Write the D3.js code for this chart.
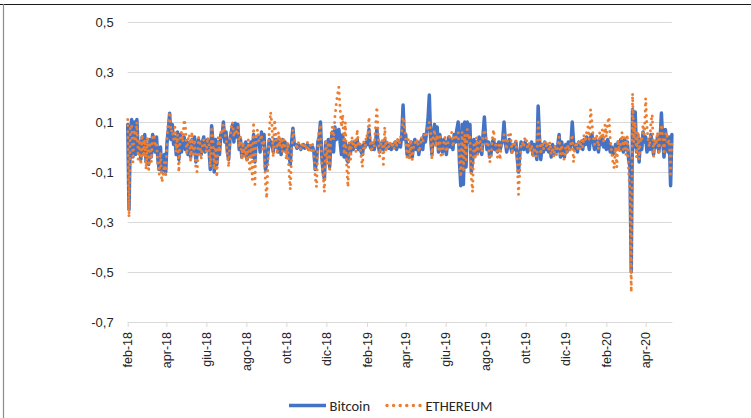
<!DOCTYPE html>
<html>
<head>
<meta charset="utf-8">
<script src="https://cdn.jsdelivr.net/npm/d3@7"></script>
<style>
  html, body { margin: 0; padding: 0; background: #fff; }
  svg { display: block; font-family: Carlito, Calibri, Lato, "Noto Sans", sans-serif; }
</style>
</head>
<body>
<svg id="chart" width="751" height="418"></svg>
<script>
// Daily log-returns, one value every two days starting on 1 Feb 2018
const START_DATE = "2018-02-01";
const STEP_DAYS = 2;

const bitcoin = [
  0.09, -0.25, 0.05, 0.11, -0.04, 0.1, -0.03, 0.11, -0.02, 0.02,
  -0.05, 0.04, -0.02, 0.05, -0.06, 0.01, -0.07, 0.03, -0.04, 0.05,
  0.03, -0.02, 0.04, -0.05, -0.09, 0.0, -0.1, -0.08, -0.03, -0.1,
  0.02, 0.07, 0.135, 0.03, 0.09, 0.01, 0.04, -0.03, 0.06, -0.05,
  0.05, -0.02, 0.03, 0.04, -0.01, 0.02, -0.03, 0.02, -0.04, 0.03,
  -0.02, 0.04, -0.06, -0.03, 0.03, 0.01, -0.03, 0.02, 0.04, -0.02,
  0.01, 0.03, -0.01, -0.09, 0.085, 0.02, -0.1, 0.03, -0.07, 0.02,
  -0.03, 0.05, 0.04, 0.1, 0.02, 0.06, -0.02, -0.05, 0.03, 0.06,
  0.09, 0.02, 0.095, 0.04, 0.09, -0.01, 0.03, -0.04, 0.01, -0.03,
  0.02, -0.05, 0.01, -0.03, 0.02, -0.04, 0.05, -0.06, 0.03, 0.01,
  0.04, -0.02, 0.06, 0.01, 0.05, -0.09, -0.07, -0.02, 0.03, 0.02,
  0.01, -0.02, 0.03, 0.0, 0.03, -0.02, 0.02, -0.03, 0.03, -0.01,
  0.02, -0.02, 0.01, -0.03, -0.07, 0.02, 0.075, 0.01, 0.01, -0.005,
  0.01, 0.0, -0.01, 0.005, 0.01, -0.005, 0.0, 0.01, -0.01, 0.005,
  -0.01, 0.0, -0.02, -0.09, -0.06, 0.02, 0.04, 0.1, -0.04, -0.1,
  -0.13, 0.02, -0.04, 0.03, -0.08, 0.02, 0.06, -0.02, 0.08, 0.03,
  0.05, 0.07, 0.02, -0.03, 0.05, -0.04, 0.02, -0.05, -0.06, 0.01,
  -0.02, 0.02, -0.01, 0.02, 0.0, 0.03, -0.01, 0.01, -0.02, -0.03,
  0.01, 0.0, 0.02, 0.01, 0.07, 0.0, -0.01, 0.01, -0.01, 0.02,
  0.07, 0.01, -0.02, 0.0, 0.02, -0.01, 0.03, 0.0, 0.01, -0.005,
  0.01, -0.01, 0.01, 0.0, 0.02, -0.01, 0.01, 0.02, 0.0, 0.05,
  0.168, 0.03, 0.05, -0.03, 0.01, -0.04, 0.02, -0.04, 0.01, 0.03,
  -0.01, 0.02, -0.03, 0.01, 0.03, -0.01, 0.05, 0.02, 0.06, 0.11,
  0.208, 0.04, -0.03, 0.06, 0.09, 0.01, 0.08, -0.02, 0.05, 0.0,
  -0.02, 0.03, 0.01, -0.03, 0.02, 0.04, 0.0, 0.03, -0.01, 0.05,
  0.02, 0.07, 0.1, -0.06, -0.155, 0.09, -0.15, 0.1, -0.08, 0.1,
  0.02, 0.09, -0.1, -0.06, 0.03, -0.03, 0.02, -0.02, 0.04, 0.0,
  -0.03, 0.05, 0.12, 0.03, -0.01, 0.02, -0.04, -0.03, 0.02, 0.03,
  -0.01, 0.01, -0.02, 0.02, -0.01, 0.01, 0.03, 0.1, 0.02, -0.02,
  0.01, 0.03, 0.0, -0.02, 0.01, -0.01, 0.02, -0.04, -0.1, -0.03,
  0.02, 0.01, -0.01, 0.02, 0.0, -0.02, 0.01, -0.01, 0.02, -0.03,
  0.01, -0.02, -0.05, 0.164, 0.04, -0.05, 0.01, -0.02, 0.02, -0.01,
  0.01, -0.02, 0.0, -0.04, 0.01, -0.03, 0.0, -0.02, 0.01, 0.05,
  -0.04, 0.02, -0.03, -0.04, 0.01, -0.02, 0.02, -0.01, 0.01, 0.1,
  0.02, -0.01, 0.01, -0.02, 0.02, 0.0, 0.02, -0.01, 0.03, 0.01,
  0.04, 0.02, -0.01, 0.04, 0.05, 0.02, -0.01, 0.03, 0.01, -0.02,
  0.03, 0.01, 0.04, 0.0, 0.02, -0.01, 0.03, 0.01, -0.02, 0.0,
  -0.03, -0.02, 0.01, -0.01, 0.02, -0.01, 0.03, 0.0, -0.02, 0.03,
  -0.01, 0.02, -0.05, -0.08, -0.5, 0.15, 0.0, 0.14, -0.02, 0.05,
  -0.06, 0.03, -0.01, 0.06, 0.02, 0.04, -0.02, 0.03, -0.01, 0.05,
  0.01, -0.03, 0.02, 0.0, 0.04, -0.02, 0.03, 0.136, 0.02, -0.04,
  0.07, 0.03, -0.02, 0.04, -0.155, 0.05
];

const ethereum = [
  0.11, -0.28, 0.08, 0.09, -0.06, 0.07, 0.02, 0.1, -0.05, 0.03,
  -0.07, 0.05, -0.04, 0.03, -0.09, 0.04, -0.1, 0.02, -0.06, 0.04,
  0.05, 0.0, 0.02, -0.08, -0.11, -0.02, -0.14, -0.12, -0.06, -0.12,
  0.04, 0.1, 0.14, 0.06, 0.07, 0.03, 0.08, -0.02, 0.05, -0.1,
  0.03, 0.06, 0.02, 0.11, 0.09, -0.03, 0.03, 0.05, -0.06, 0.06,
  -0.03, 0.03, -0.09, -0.1, 0.04, 0.02, -0.05, 0.01, 0.03, 0.0,
  -0.02, 0.04, 0.01, -0.08, 0.07, 0.03, -0.09, 0.0, -0.12, 0.04,
  -0.02, 0.06, 0.05, 0.09, 0.05, 0.04, -0.03, -0.08, 0.04, 0.08,
  0.1, 0.04, 0.07, 0.06, 0.08, 0.0, 0.04, -0.05, 0.02, -0.04,
  0.0, -0.06, 0.03, -0.1, 0.01, -0.13, 0.1, -0.15, 0.04, 0.07,
  0.02, 0.03, 0.05, -0.02, 0.03, -0.14, -0.205, -0.06, 0.07, 0.14,
  0.09, -0.04, 0.11, 0.05, -0.03, 0.06, 0.0, 0.04, -0.02, 0.03,
  0.0, -0.05, 0.02, -0.1, -0.17, -0.03, 0.07, 0.03, 0.02, -0.01,
  0.02, 0.005, -0.01, 0.02, 0.0, 0.01, -0.01, 0.02, -0.02, 0.01,
  -0.015, 0.01, -0.03, -0.12, -0.16, 0.0, 0.07, 0.09, -0.06, -0.11,
  -0.18, 0.03, -0.07, 0.02, -0.1, 0.05, 0.08, 0.03, 0.12, 0.17,
  0.21, 0.24, 0.15, 0.08, 0.13, -0.03, 0.1, -0.08, -0.16, 0.02,
  -0.05, 0.04, 0.0, 0.03, -0.02, 0.07, 0.01, 0.02, -0.04, -0.08,
  0.02, -0.01, 0.05, 0.04, 0.12, 0.02, -0.02, 0.03, 0.0, 0.08,
  0.16, 0.05, -0.04, 0.01, 0.03, -0.07, 0.08, -0.02, 0.02, 0.0,
  0.02, 0.0, 0.02, -0.01, 0.03, 0.0, 0.04, 0.01, 0.03, 0.06,
  0.12, 0.09, 0.03, -0.04, 0.03, -0.05, 0.03, -0.05, 0.0, 0.02,
  0.01, 0.03, -0.02, 0.0, 0.04, 0.02, 0.04, 0.06, 0.05, 0.08,
  0.1, 0.07, -0.05, 0.04, 0.07, 0.0, 0.05, -0.01, 0.04, -0.04,
  -0.04, 0.02, 0.04, -0.02, 0.01, 0.03, 0.05, 0.06, 0.0, 0.04,
  0.03, 0.05, 0.06, -0.04, -0.12, 0.06, -0.1, 0.05, -0.05, 0.07,
  0.03, 0.05, -0.12, -0.18, 0.02, -0.05, 0.04, -0.03, 0.03, 0.02,
  -0.02, 0.04, 0.07, 0.05, 0.0, 0.01, -0.06, -0.05, 0.03, 0.07,
  0.02, 0.0, -0.04, 0.01, -0.05, 0.02, 0.02, 0.05, 0.03, -0.01,
  0.04, 0.06, 0.05, -0.03, 0.02, 0.01, 0.03, -0.05, -0.19, -0.1,
  0.01, 0.02, 0.0, 0.04, 0.03, -0.01, 0.02, -0.02, 0.01, -0.04,
  0.0, -0.03, -0.04, 0.1, 0.05, -0.03, 0.02, -0.01, 0.03, 0.0,
  0.02, -0.01, 0.02, -0.03, 0.0, -0.04, 0.01, -0.03, 0.0, 0.04,
  -0.03, 0.01, -0.04, -0.05, 0.0, -0.02, 0.01, -0.02, 0.02, 0.05,
  -0.06, 0.0, 0.02, -0.01, 0.03, -0.01, 0.03, 0.0, 0.05, 0.02,
  0.06, 0.08, 0.03, 0.15, 0.1, 0.04, 0.01, 0.05, 0.04, -0.01,
  0.06, 0.03, 0.07, 0.02, 0.09, 0.04, 0.1, 0.12, 0.03, -0.02,
  -0.06, -0.085, 0.0, -0.08, 0.03, -0.02, 0.02, 0.06, -0.01, 0.04,
  -0.03, 0.05, -0.1, -0.18, -0.58, 0.215, 0.02, 0.1, -0.04, 0.06,
  -0.05, 0.04, 0.02, 0.09, 0.05, 0.195, 0.08, 0.02, 0.0, 0.1,
  0.13, -0.04, 0.03, 0.01, 0.06, -0.03, 0.05, 0.09, 0.04, -0.03,
  0.05, 0.06, 0.01, 0.03, -0.12, 0.03
];

const Y_TICKS = [-0.7, -0.5, -0.3, -0.1, 0.1, 0.3, 0.5];
const MONTHS = ["gen", "feb", "mar", "apr", "mag", "giu", "lug", "ago", "set", "ott", "nov", "dic"];
const SERIES_NAMES = ["Bitcoin", "ETHEREUM"];
const COLORS = ["#4472C4", "#ED7D31"];

const svg = d3.select("#chart");
const W = 751, H = 418;
const plot = { left: 127.7, right: 671.9, top: 22, bottom: 322 };

const start = d3.utcParse("%Y-%m-%d")(START_DATE);
const dateAt = i => d3.utcDay.offset(start, i * STEP_DAYS);
const n = bitcoin.length;

const x = d3.scaleUtc()
  .domain([start, dateAt(n - 1)])
  .range([plot.left, plot.right]);
const y = d3.scaleLinear()
  .domain([-0.7, 0.5])
  .range([plot.bottom, plot.top]);

const itLocale = d3.formatLocale({ decimal: ",", thousands: ".", grouping: [3], currency: ["", " €"], minus: "-" });
const fmtY = itLocale.format(".1f");

// outer frame
svg.append("rect").attr("width", W).attr("height", H).attr("fill", "#fff");
svg.append("line").attr("x1", 0).attr("x2", W).attr("y1", 4.5).attr("y2", 4.5)
  .attr("stroke", "#1a1a1a").attr("stroke-width", 1);
svg.append("line").attr("x1", 3.5).attr("x2", 3.5).attr("y1", 4).attr("y2", H)
  .attr("stroke", "#8c8c8c").attr("stroke-width", 1.2);

// horizontal gridlines + y labels
const yAxis = d3.axisLeft(y)
  .tickValues(Y_TICKS)
  .tickSize(-(plot.right - plot.left))
  .tickPadding(14)
  .tickFormat(fmtY);
const gy = svg.append("g")
  .attr("transform", `translate(${plot.left},0)`)
  .call(yAxis);
gy.select(".domain").remove();
gy.selectAll(".tick line").attr("stroke", "#d9d9d9").attr("stroke-width", 1);
gy.selectAll(".tick text")
  .attr("fill", "#262626")
  .style("font-size", "13px");

// x axis: a tick every two months, rotated labels
const xTicks = d3.utcMonths(start, d3.utcDay.offset(dateAt(n - 1), 1))
  .filter(d => d.getUTCMonth() % 2 === 1);
const xAxis = d3.axisBottom(x)
  .tickValues(xTicks)
  .tickSize(5)
  .tickSizeOuter(0)
  .tickFormat(d => MONTHS[d.getUTCMonth()] + "-" + String(d.getUTCFullYear()).slice(2));
const gx = svg.append("g")
  .attr("transform", `translate(0,${plot.bottom})`)
  .call(xAxis);
gx.select(".domain").attr("stroke", "#d9d9d9");
gx.selectAll(".tick line").attr("stroke", "#d9d9d9");
gx.selectAll(".tick text")
  .attr("fill", "#262626")
  .style("font-size", "12.5px")
  .attr("text-anchor", "end")
  .attr("dy", null)
  .attr("transform", "rotate(-90)")
  .attr("x", -10)
  .attr("y", 0)
  .attr("dominant-baseline", "central");

// series
const line = d3.line()
  .x((d, i) => x(dateAt(i)))
  .y(d => y(d));

svg.append("path")
  .datum(bitcoin)
  .attr("d", line)
  .attr("fill", "none")
  .attr("stroke", COLORS[0])
  .attr("stroke-width", 3.5)
  .attr("stroke-linejoin", "round")
  .attr("stroke-linecap", "round");

svg.append("path")
  .datum(ethereum)
  .attr("d", line)
  .attr("fill", "none")
  .attr("stroke", COLORS[1])
  .attr("stroke-width", 3)
  .attr("stroke-dasharray", "0 6")
  .attr("stroke-linecap", "round");

// legend
const legend = svg.append("g").attr("transform", "translate(0,405.5)");
const legendItems = [
  { name: SERIES_NAMES[0], x0: 289, x1: 326, color: COLORS[0], dash: null },
  { name: SERIES_NAMES[1], x0: 387, x1: 422, color: COLORS[1], dash: "0 6.6" }
];
legendItems.forEach(item => {
  legend.append("line")
    .attr("x1", item.x0).attr("x2", item.x1)
    .attr("stroke", item.color)
    .attr("stroke-width", 3.5)
    .attr("stroke-linecap", item.dash ? "round" : "butt")
    .attr("stroke-dasharray", item.dash);
  legend.append("text")
    .attr("x", item.x1 + 3.5)
    .attr("y", 0.5)
    .attr("dominant-baseline", "central")
    .attr("fill", "#262626")
    .style("font-size", "14.5px")
    .text(item.name);
});
</script>
</body>
</html>
